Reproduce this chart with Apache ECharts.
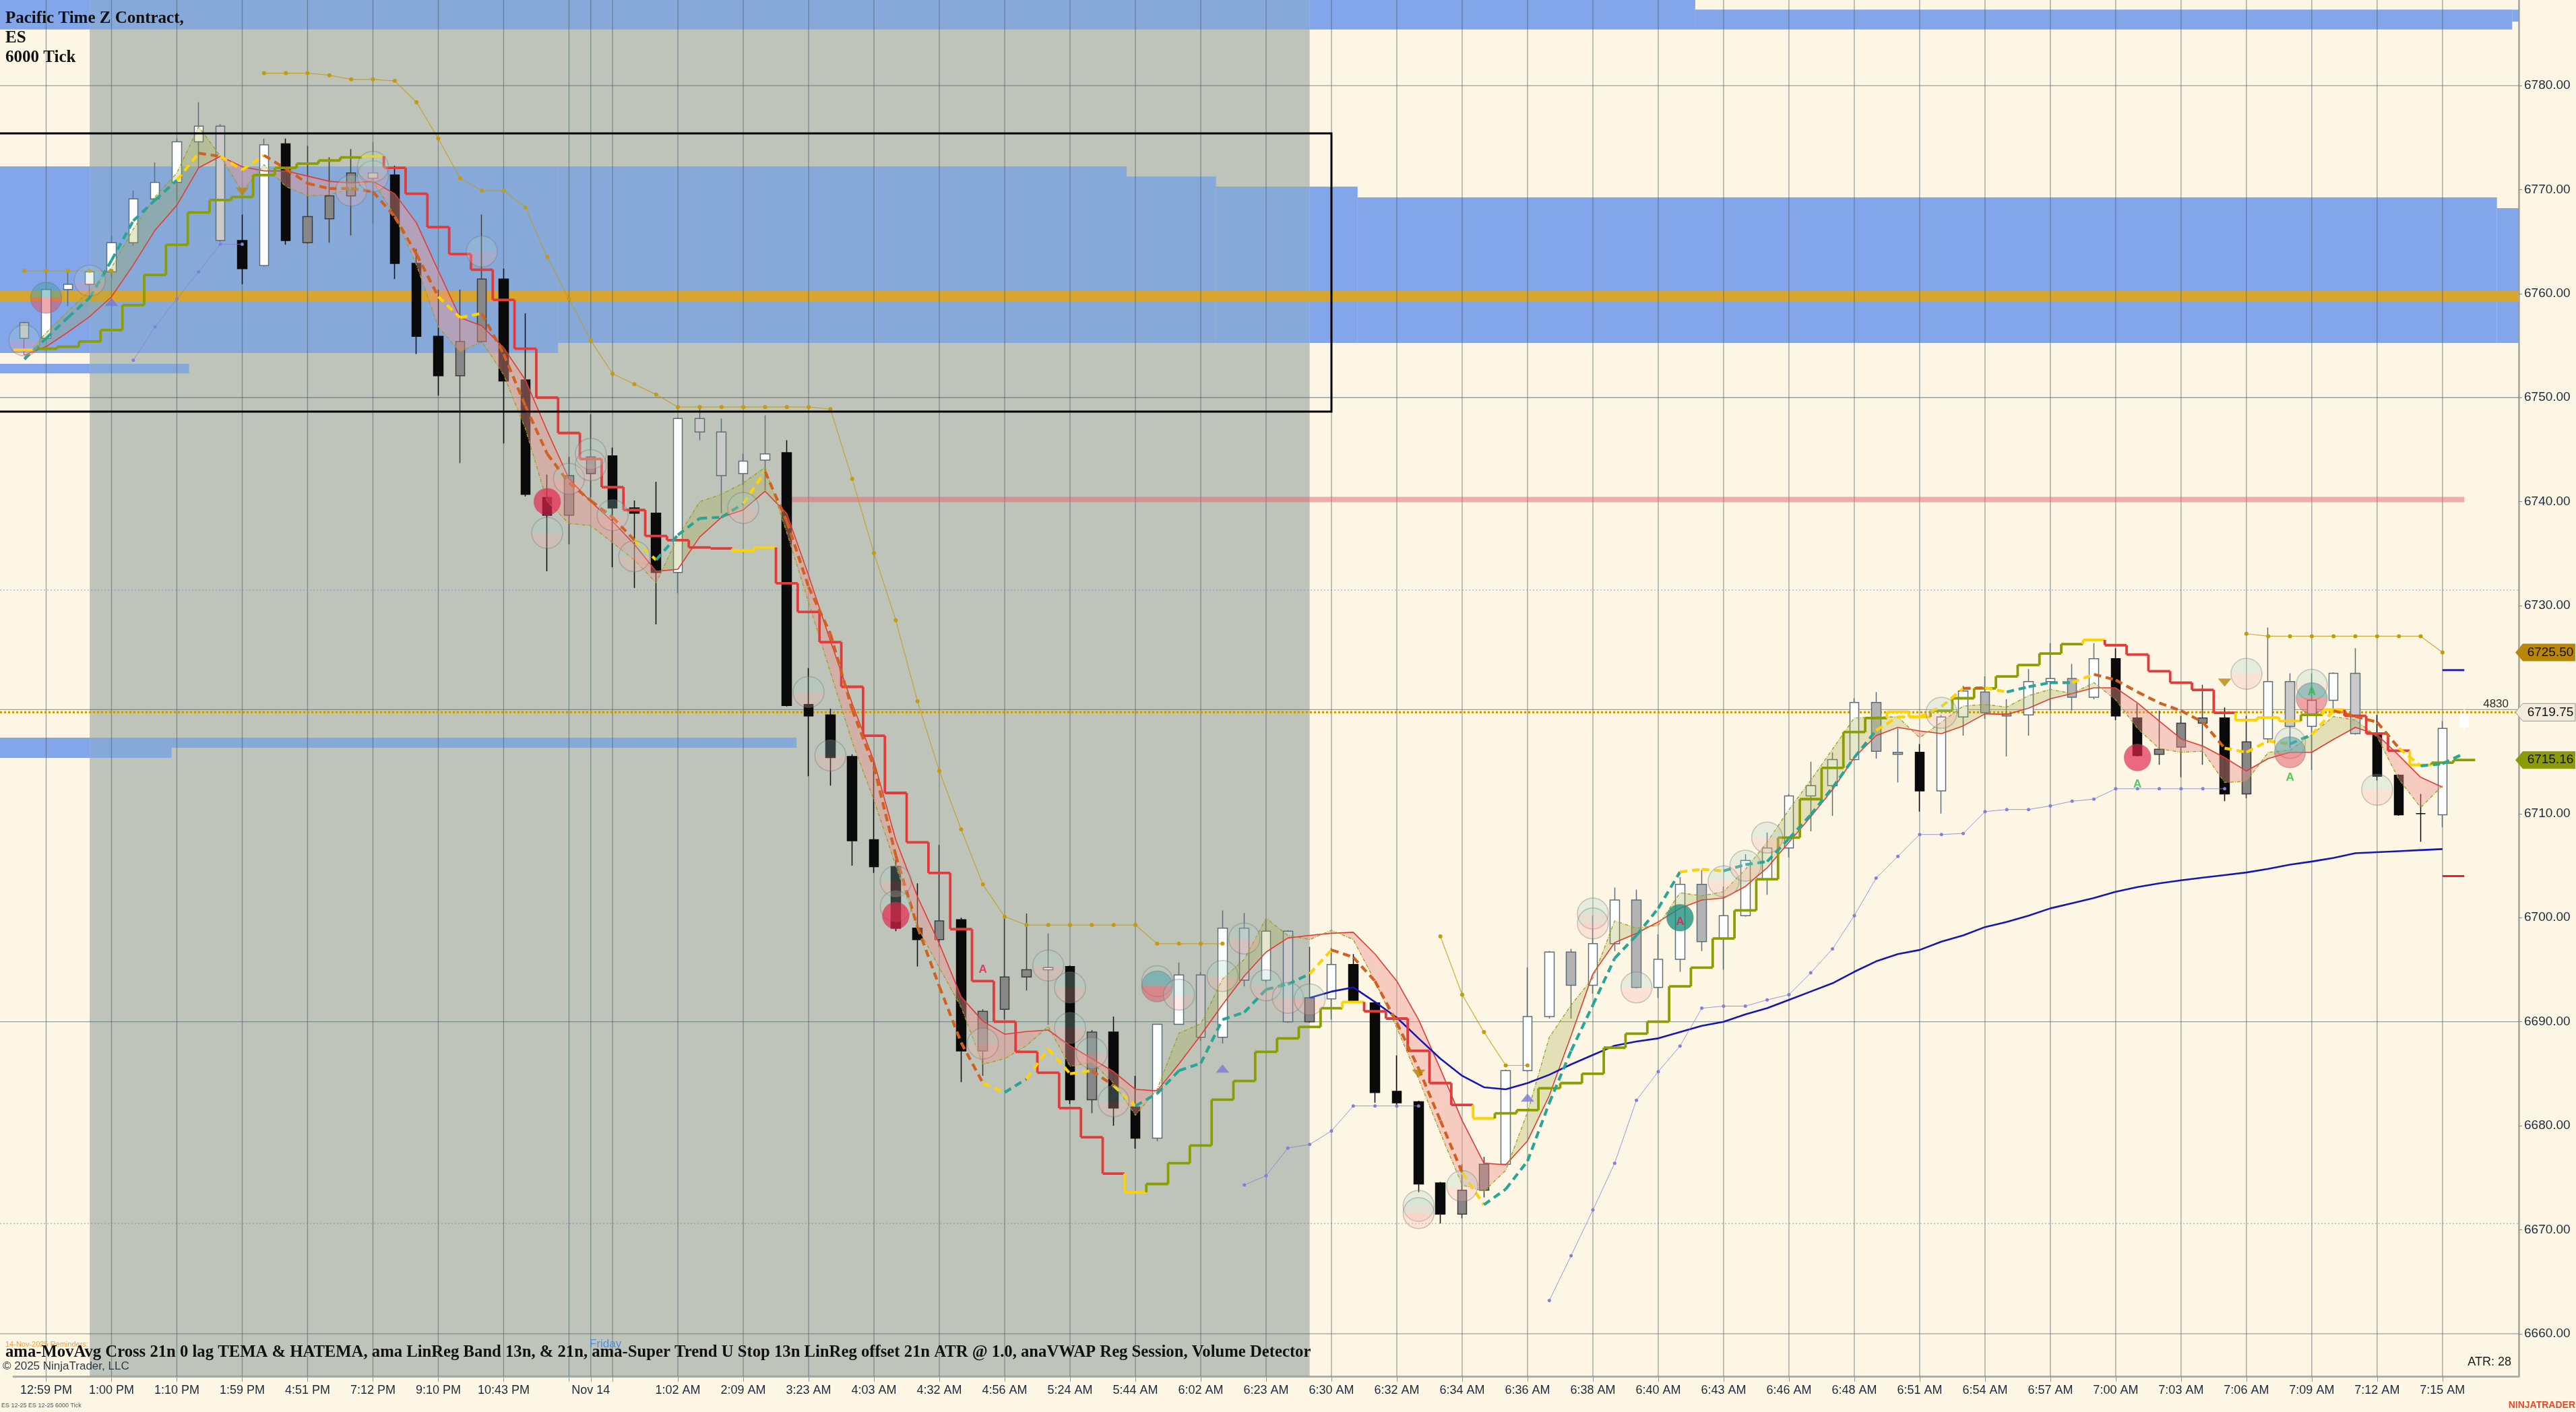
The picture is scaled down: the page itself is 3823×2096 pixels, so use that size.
<!DOCTYPE html>
<html><head><meta charset="utf-8">
<script src="https://cdn.jsdelivr.net/npm/echarts@6/dist/echarts.min.js"></script>
<style>html,body{margin:0;padding:0;background:#FDF6E4;}#c{width:3823px;height:2096px;}</style>
</head><body><div id="c"></div>
<script>
// ---------- DATA ----------
const tickBars = [1,4,7,10,13,16,19,22,26,30,33,36,39,42,45,48,51,54,57,60,63,66,69,72,75,78,81,84,87,90,93,96,99,102,105,108,111];
const tickText = ['12:59 PM','1:00 PM','1:10 PM','1:59 PM','4:51 PM','7:12 PM','9:10 PM','10:43 PM','Nov 14','1:02 AM','2:09 AM','3:23 AM','4:03 AM','4:32 AM','4:56 AM','5:24 AM','5:44 AM','6:02 AM','6:23 AM','6:30 AM','6:32 AM','6:34 AM','6:36 AM','6:38 AM','6:40 AM','6:43 AM','6:46 AM','6:48 AM','6:51 AM','6:54 AM','6:57 AM','7:00 AM','7:03 AM','7:06 AM','7:09 AM','7:12 AM','7:15 AM'];
const extraGridBars = [25,27];
const yTicks = [6660,6670,6680,6690,6700,6710,6720,6730,6740,6750,6760,6770,6780];
const hGrid = [6660,6690,6720,6750,6780];

const opens = [6757.2,6755.7,6760.4,6760.9,6762.1,6764.9,6769.1,6770.7,6774.6,6776.1,
6765.1,6762.7,6774.4,6767.4,6769.4,6771.6,6771.6,6771.4,6762.9,6755.9,
6755.4,6761.4,6761.4,6751.7,6740.4,6742.5,6744.3,6744.4,6739.4,6738.9,
6733.2,6748.0,6746.7,6742.7,6744.0,6744.7,6720.5,6719.5,6715.5,6707.5,
6704.9,6699.0,6699.7,6699.8,6691.0,6694.3,6695.0,6695.0,6695.3,6689.0,
6689.0,6681.8,6678.8,6689.75,6694.5,6688.5,6699.0,6694.0,6698.7,6692.3,
6692.2,6695.5,6691.8,6683.3,6682.3,6674.5,6673.8,6673.8,6676.3,6685.3,
6690.5,6696.7,6693.5,6697.5,6701.7,6693.3,6696.0,6703.2,6698.0,6700.2,
6703.7,6706.7,6711.7,6712.7,6715.2,6720.7,6715.9,6715.9,6712.2,6719.3,
6721.7,6719.6,6719.5,6722.7,6723.0,6721.2,6724.9,6719.2,6716.2,6718.7,
6719.2,6719.2,6716.9,6717.2,6722.7,6718.4,6720.9,6723.5,6717.6,6713.7,
6710.0,6709.9];
const closes = [6755.7,6760.4,6760.9,6762.1,6764.9,6769.1,6770.7,6774.6,6776.1,6765.1,
6762.4,6774.3,6765.1,6764.9,6767.2,6769.4,6771.1,6762.9,6755.9,6752.1,
6752.1,6755.4,6751.6,6740.7,6738.7,6738.7,6742.7,6739.4,6738.9,6733.2,
6748.0,6746.7,6742.5,6743.9,6744.6,6720.4,6719.4,6715.4,6707.4,6704.9,
6699.0,6697.9,6697.9,6687.2,6687.2,6691.2,6694.3,6695.2,6682.5,6682.5,
6681.7,6678.8,6689.75,6694.5,6688.5,6699.0,6694.0,6698.7,6690.0,6690.0,
6695.5,6692.0,6683.2,6682.2,6674.4,6671.5,6671.5,6676.3,6685.3,6690.5,
6696.7,6693.5,6697.5,6701.7,6693.3,6696.0,6703.2,6697.7,6700.2,6705.5,
6706.7,6711.7,6712.7,6715.2,6720.7,6716.0,6715.7,6712.2,6719.3,6721.8,
6719.7,6719.4,6722.7,6723.0,6721.2,6724.9,6719.4,6715.6,6715.7,6716.4,
6718.7,6711.9,6711.9,6722.7,6718.4,6720.9,6723.5,6717.7,6713.6,6709.9,
6710.0,6718.2];
const highs = [6757.3,6760.5,6762.2,6762.4,6765.6,6769.9,6772.6,6774.9,6778.4,6776.3,
6767.6,6774.9,6774.9,6774.2,6773.1,6773.9,6774.6,6772.3,6764.3,6760.4,
6760.4,6767.6,6762.4,6758.1,6742.6,6744.3,6748.4,6745.2,6740.1,6741.9,
6748.1,6749.0,6748.0,6744.6,6748.3,6745.9,6724.0,6720.1,6715.7,6715.0,
6705.6,6703.3,6707.0,6700.0,6691.2,6700.0,6700.4,6698.5,6695.4,6689.2,
6690.5,6684.8,6689.8,6695.7,6694.75,6700.7,6700.45,6699.8,6698.8,6697.2,
6697.1,6696.5,6691.9,6686.75,6682.4,6674.6,6676.3,6677.0,6685.4,6695.2,
6696.8,6697.0,6700.2,6702.9,6702.7,6698.4,6703.9,6704.6,6703.0,6706.1,
6708.2,6711.9,6715.0,6715.9,6721.1,6721.7,6718.2,6716.7,6719.5,6722.3,
6723.2,6721.0,6723.9,6726.4,6724.4,6726.4,6725.9,6720.6,6719.9,6719.4,
6722.4,6720.2,6719.4,6727.9,6723.5,6723.5,6723.6,6725.9,6719.5,6713.8,
6711.9,6718.9];
const lows = [6754.1,6755.5,6758.8,6759.7,6761.5,6764.6,6769.0,6769.0,6772.1,6765.0,
6760.9,6762.6,6764.7,6764.8,6764.9,6765.6,6766.7,6761.4,6754.2,6750.2,
6743.7,6755.3,6745.6,6740.5,6733.3,6735.9,6740.4,6733.7,6731.7,6728.2,
6731.2,6745.9,6738.9,6741.6,6741.1,6720.3,6713.6,6712.7,6705.0,6704.3,
6698.7,6695.3,6697.2,6684.2,6684.8,6690.2,6693.0,6689.7,6682.1,6681.2,
6680.0,6677.8,6678.5,6689.7,6688.2,6687.9,6693.4,6693.8,6689.9,6689.9,
6690.2,6691.8,6682.2,6682.0,6673.6,6670.6,6671.1,6673.1,6676.2,6685.2,
6690.3,6690.3,6692.7,6696.8,6693.2,6692.3,6694.8,6696.8,6695.0,6700.1,
6702.2,6705.8,6708.3,6709.8,6715.1,6715.3,6713.0,6710.2,6710.0,6717.5,
6719.1,6715.5,6717.5,6719.9,6719.9,6721.0,6719.0,6715.5,6714.7,6713.5,
6714.7,6711.2,6711.5,6716.8,6716.3,6714.2,6720.0,6717.6,6713.2,6709.8,
6707.3,6708.7];
// candle paint: w up, b down, d/m/l painted grey bars
const paint = "lwwwwwwwwl"+"bwbdddlbbb"+"ddbbbddbbb"+"wllwwbbbbb"+"bbdbdddwbd"+"bbwwlwlwld"+"wbbbbbddww"+"wmwwmwwmww"+"wwwwwmmbww"+"mmwwmwbbdd"+"dbdwlwwlbb"+"bw";

// Super Trend U Stop (bars 0..112) and its trend state runs
const stopVals = [6754.6,6754.7,6754.9,6755.4,6756.5,6758.9,6761.8,6764.7,6767.8,6769.0,
6769.3,6771.4,6772.1,6772.5,6772.8,6773.1,6773.2,6772.1,6769.6,6766.4,
6763.8,6762.3,6759.4,6754.7,6750.0,6746.6,6744.1,6741.4,6739.2,6736.7,
6736.3,6735.6,6735.5,6735.3,6735.6,6732.15,6729.4,6726.5,6722.2,6717.5,
6712.0,6707.25,6704.3,6698.9,6693.9,6690.0,6687.1,6685.1,6681.7,6678.9,
6675.4,6673.6,6674.4,6676.4,6678.1,6682.5,6684.3,6687.1,6688.4,6689.5,
6691.3,6691.9,6691.0,6690.3,6687.2,6684.1,6682.0,6680.7,6681.2,6681.5,
6683.6,6684.1,6685.0,6687.5,6688.85,6690.0,6693.4,6695.2,6698.0,6700.7,
6703.7,6707.7,6711.4,6714.4,6717.85,6719.2,6719.8,6719.3,6719.9,6721.1,
6722.05,6723.2,6724.3,6725.4,6726.3,6726.7,6726.2,6725.3,6723.7,6722.6,
6721.9,6719.7,6719.0,6719.25,6718.9,6719.5,6720.0,6719.4,6717.7,6716.05,
6714.7,6714.9,6715.16];
const stopRuns = [['y',1],['u',15],['y',1],['d',16],['y',2],['d',16],['y',1],['u',9],['y',1],['d',5],['y',1],['u',18],['y',2],['u',7],['y',1],['d',6],['y',3],['u',1],['y',1],['d',3],['y',1],['u',2]];

// MovAvg Cross TEMA (bars 0..112) and segment state runs
const temaVals = [6753.7,6755.7,6757.7,6759.6,6763.2,6767.0,6769.0,6770.9,6773.5,6773.2,
6771.9,6773.3,6772.0,6770.6,6770.1,6770.1,6769.8,6767.4,6763.8,6759.7,
6757.7,6758.1,6754.2,6749.2,6744.6,6741.8,6740.1,6738.5,6736.3,6734.4,
6736.8,6738.4,6738.5,6739.8,6742.9,6738.1,6731.8,6727.3,6720.0,6714.5,
6706.0,6699.1,6693.4,6688.0,6684.1,6683.2,6684.5,6687.4,6685.0,6685.3,
6683.85,6681.9,6683.1,6685.3,6686.0,6690.2,6690.9,6693.1,6693.6,6694.6,
6696.9,6696.2,6693.9,6689.9,6685.5,6680.5,6675.5,6672.4,6673.9,6676.6,
6682.2,6687.2,6691.6,6696.1,6698.3,6700.9,6704.4,6704.65,6704.5,6705.1,
6705.4,6707.6,6709.9,6712.5,6715.4,6718.0,6719.3,6719.3,6720.3,6722.05,
6722.1,6721.7,6722.2,6722.6,6722.6,6723.4,6722.85,6721.7,6720.65,6719.9,
6718.8,6716.3,6715.9,6717.0,6716.7,6717.6,6719.9,6719.35,6718.8,6716.3,
6714.6,6714.8,6715.8];
const temaRuns = [['u',7],['y',1],['d',1],['y',2],['d',8],['y',2],['d',7],['y',1],['u',4],['y',1],['d',10],['y',1],['u',1],['y',3],['d',1],['y',1],['u',8],['y',1],['d',6],['y',1],['u',9],['y',2],['u',7],['y',4],['d',1],['y',1],['u',3],['y',1],['d',6],['y',3],['u',1],['y',1],['d',3],['y',1],['u',2]];

// LinReg band
const lrRed = [6754.1,6754.9,6756.3,6757.8,6759.7,6762.75,6766.1,6768.5,6772.1,6773.2,
6772.2,6771.8,6771.8,6771.3,6770.8,6770.65,6770.8,6769.6,6766.8,6762.2,
6757.7,6756.9,6754.8,6751.7,6746.8,6742.2,6740.0,6738.1,6735.9,6733.3,
6733.5,6736.6,6738.5,6739.2,6741.0,6738.85,6732.9,6726.6,6720.6,6715.05,
6707.5,6702.0,6697.5,6692.4,6690.05,6688.8,6689.05,6689.2,6687.7,6686.45,
6685.2,6683.5,6683.35,6685.95,6688.7,6691.65,6694.4,6696.7,6698.05,6698.3,
6698.5,6698.6,6696.5,6693.9,6690.2,6685.45,6680.5,6676.4,6676.25,6678.55,
6682.9,6688.66,6694.6,6697.6,6698.5,6699.6,6700.9,6701.7,6701.9,6703.0,
6704.8,6707.26,6709.7,6712.3,6715.4,6717.5,6718.3,6717.96,6717.7,6718.45,
6719.6,6719.55,6720.15,6721.05,6721.55,6722.1,6722.1,6720.65,6718.9,6717.2,
6716.5,6715.4,6714.1,6715.3,6715.9,6715.9,6717.15,6718.3,6717.6,6715.6,
6713.5,6712.55];
const lrOlive = [6753.8,6756.25,6758.3,6760.3,6762.5,6766.2,6769.3,6771.6,6776.05,6773.2,
6769.8,6772.4,6770.3,6769.4,6769.5,6770.1,6770.85,6767.5,6762.75,6756.8,
6754.4,6755.4,6752.2,6747.0,6740.0,6737.9,6737.7,6736.05,6734.4,6732.2,
6736.6,6740.0,6740.7,6741.8,6743.3,6737.0,6730.3,6723.6,6716.9,6711.3,
6705.0,6699.1,6695.2,6691.4,6685.9,6686.45,6687.7,6689.55,6685.7,6686.1,
6684.1,6681.0,6683.5,6688.9,6689.8,6694.1,6696.0,6699.95,6698.3,6697.9,
6698.8,6697.9,6693.9,6689.4,6684.5,6679.3,6674.3,6673.7,6675.7,6681.3,
6688.5,6691.6,6694.2,6699.7,6699.0,6699.26,6702.4,6702.1,6702.5,6704.65,
6707.26,6710.4,6713.2,6716.2,6719.2,6719.3,6719.3,6717.3,6718.8,6720.35,
6720.5,6720.25,6721.35,6721.95,6721.55,6722.6,6720.95,6718.2,6716.25,6715.9,
6716.0,6713.0,6713.1,6715.9,6716.1,6717.6,6719.35,6719.0,6717.4,6713.3,
6710.6,6712.7];

// dotted gold stop and lavender trail, as [startBar, values]
const goldSegs = [
 [0,[6762.2,6762.2,6762.2,6762.2,6762.2]],
 [11,[6781.2,6781.2,6781.2,6781.0,6780.6,6780.6,6780.45,6778.4,6774.9,6771.1,6769.9,6769.9,6768.3,6763.5,6759.5,6755.5,6752.3,6751.3,6750.3,6749.1,6749.1,6749.1,6749.1,6749.1,6749.1,6749.1,6748.9,6742.2,6735.05,6728.6,6720.8,6714.1,6708.5,6703.2,6700.1,6699.3,6699.3,6699.3,6699.3,6699.3,6699.3,6697.5,6697.5,6697.5,6697.5]],
 [65,[6698.2,6692.6,6689.0,6685.8,6685.8]],
 [102,[6727.3,6727.06,6727.06,6727.06,6727.06,6727.06,6727.06,6727.06,6727.06,6725.5]]
];
const lavSegs = [
 [5,[6753.6,6756.8,6759.5,6762.1,6764.75,6764.75]],
 [56,[6674.3,6675.2,6677.85,6678.2,6679.5,6681.9,6681.9,6681.9,6681.9]],
 [70,[6663.2,6667.5,6671.9,6676.4,6682.45,6685.2,6687.66,6691.3,6691.5,6691.5,6692.1,6692.6,6694.7,6697.0,6700.2,6703.8,6705.9,6708.0,6708.0,6708.1,6710.2,6710.4,6710.4,6710.75,6711.2,6711.4,6712.4,6712.4,6712.4,6712.4,6712.4,6712.4]]
];
const vwapStart = 59;
const vwapVals = [6692.3,6692.9,6693.3,6691.9,6690.4,6688.4,6686.45,6684.8,6683.7,6683.5,6684.1,6684.9,6685.9,6686.8,6687.7,6688.1,6688.4,6689.0,6689.6,6690.0,6690.7,6691.3,6692.1,6692.9,6693.7,6694.8,6695.8,6696.5,6696.9,6697.7,6698.3,6699.1,6699.6,6700.2,6700.9,6701.4,6701.9,6702.5,6702.95,6703.3,6703.6,6703.85,6704.1,6704.35,6704.7,6705.1,6705.4,6705.75,6706.2,6706.3,6706.4,6706.5,6706.6];

// Volume detector bubbles
const bubbleBar = [0,1,3,15,16,16,21,24,24,25,26,26,27,28,33,36,37,40,40,40,44,47,48,48,49,50,52,52,53,55,56,57,58,59,64,64,66,72,72,74,76,78,79,80,88,97,102,104,104,105,105,108];
const bubblePrice = [6755.5,6759.6,6761.25,6769.9,6771.3,6772.2,6764.05,6740.0,6737.0,6742.2,6744.6,6743.5,6738.7,6734.75,6739.4,6721.7,6715.6,6703.5,6701.1,6700.2,6687.9,6695.4,6693.3,6689.4,6687.0,6682.35,6693.9,6693.4,6692.6,6694.4,6698.0,6693.5,6692.3,6692.15,6672.3,6671.6,6674.2,6700.4,6699.45,6693.3,6700.0,6703.5,6705.0,6707.7,6719.7,6715.4,6723.45,6716.8,6715.9,6722.4,6721.1,6712.3];
const bubbleKind = "fsfffffrff"+"fffffffffr"+"fffffffsff"+"ffffffffff"+"tffffrffsf"+"sf";
const upTriBar = [4,55,69], upTriPrice = [6759.2,6685.5,6682.7];
const dnTriBar = [10,64,101], dnTriPrice = [6769.8,6685.0,6722.6];
const redABar = [44,76], redAPrice = [6695.0,6699.6];
const grnABar = [97,104,105], grnAPrice = [6712.8,6713.5,6721.7];

// zones [startBar, endBar] (-9 = left edge, 999 = right edge), top, bottom
const zoneBars = [[-9,76.7],[76.7,114.2],[114.2,999],[-9,24.5],[24.5,50.6],[50.6,54.7],[54.7,61.2],[61.2,113.5],[113.5,999],[-9,7.56],[-9,35.45],[-9,6.76]];
const zoneTop = [6788.3,6787.3,6787.3,6772.23,6772.23,6771.26,6770.29,6769.25,6768.21,6753.25,6717.31,6716.33];
const zoneBot = [6785.4,6785.4,6786.15,6754.29,6755.26,6755.26,6755.26,6755.26,6755.26,6752.34,6716.33,6715.36];
const pocBand = [6760.25,6759.27];
const sessStart = 3, sessEnd = 59;
const boxBars = [-9,60.0], boxPrices = [6775.4,6748.65];
const pinkLine = {from:35.2, to:112.0, price:6740.2};
const lastPrice = 6719.75, lastVol = '4830', stopTag = 6725.5, trendTag = 6715.16;
const blueTickPrice = 6723.8, redTickPrice = 6704.0;
const dotBlueLine = 6731.5, dotGreyLine = 6670.6;
const ghost = {bar:112, o:6719.6, c:6718.3, h:6720.5, l:6718.0};

// ---------- BUILD ----------
const NCAT = 115;
const yMin = 6655.91, yMax = 6788.23;
const labelMap = new Map(tickBars.map((b,i)=>[b,tickText[i]]));
const gridBars = tickBars.concat(extraGridBars);
const gridSet = new Set(gridBars);
const cats = Array.from({length:NCAT},(_,i)=>String(i));
function expandRuns(r){const o=[];r.forEach(([k,n])=>{for(let j=0;j<n;j++)o.push(k);});return o;}
const stopState = expandRuns(stopRuns), temaState = expandRuns(temaRuns);
function segSeries(segs){const arr=new Array(NCAT).fill(null);segs.forEach(([s,v])=>v.forEach((x,j)=>arr[s+j]=x));return arr;}
const goldData = segSeries(goldSegs), lavData = segSeries(lavSegs), vwapData = segSeries([[vwapStart,vwapVals]]);

const candleStyle = {w:{f:'#FFFFFF',b:'#5C6F7A'},b:{f:'#0A0A0A',b:'#0A0A0A'},d:{f:'#878787',b:'#3C3C3C'},m:{f:'#B3B3B3',b:'#5C6F7A'},l:{f:'#CACACA',b:'#5C6F7A'}};
const candleData = opens.map((o,i)=>{const s=candleStyle[paint[i]];return {value:[o,closes[i],lows[i],highs[i]],itemStyle:{color:s.f,color0:s.f,borderColor:s.b,borderColor0:s.b,borderWidth:1.5}};});

function split(a,b){return new echarts.graphic.LinearGradient(0,0,0,1,[{offset:0,color:a},{offset:0.5,color:a},{offset:0.5,color:b},{offset:1,color:b}]);}
const bubbleStyles = {
  f:{color:split('rgba(165,210,200,0.32)','rgba(245,175,170,0.34)'),borderColor:'rgba(110,110,110,0.45)',borderWidth:1.5},
  s:{color:split('rgba(70,160,165,0.65)','rgba(225,80,95,0.62)'),borderColor:'rgba(110,110,110,0.45)',borderWidth:1.5},
  r:{color:'rgba(226,38,78,0.85)',borderColor:'rgba(120,120,120,0.4)',borderWidth:1},
  t:{color:'rgba(22,140,125,0.95)',borderColor:'rgba(120,120,120,0.4)',borderWidth:1}
};
const bubbleData = bubbleBar.map((b,i)=>{const k=bubbleKind[i];return {value:[b,bubblePrice[i]],symbolSize:(k==='r'||k==='t')?40:46,itemStyle:bubbleStyles[k]};});

const COL = {u:'#8A9E00', d:'#E23B3B', y:'#FFD200'};
const TCOL = {u:'#28A597', d:'#D2601E', y:'#FFD200'};

function helpers(params, api){
  const cs = params.coordSys;
  const p0 = api.coord([0,6700]), p1 = api.coord([1,6700]);
  const step = p1[0]-p0[0];
  const X = b => p0[0] + b*step;
  const CX = b => Math.max(0, Math.min(cs.x+cs.width, X(b)));
  const Y = v => api.coord([0,v])[1];
  return {cs, X, CX, Y, step};
}

function renderBg(params, api){
  const {cs, X, CX, Y} = helpers(params, api);
  const ch = [];
  const L = 0, Rr = cs.x+cs.width;
  const sx0 = X(sessStart), sx1 = X(sessEnd);
  ch.push({type:'rect',shape:{x:sx0,y:cs.y,width:sx1-sx0,height:cs.height},style:{fill:'rgba(110,130,130,0.43)'}});
  const cream = 'rgba(100,145,235,0.8)', inS = 'rgba(121,162,225,0.8)';
  zoneBars.forEach((zb,k)=>{
    const x0 = CX(zb[0]), x1 = CX(zb[1]);
    const yT = Math.max(cs.y, Y(zoneTop[k])), yB = Y(zoneBot[k]);
    [[x0,Math.min(x1,sx0),cream],[Math.max(x0,sx0),Math.min(x1,sx1),inS],[Math.max(x0,sx1),x1,cream]].forEach(p=>{
      if (p[1]>p[0]) ch.push({type:'rect',shape:{x:p[0],y:yT,width:p[1]-p[0],height:yB-yT},style:{fill:p[2]}});
    });
  });
  ch.push({type:'rect',shape:{x:L,y:Y(pocBand[0]),width:Rr-L,height:Y(pocBand[1])-Y(pocBand[0])},style:{fill:'rgba(222,166,32,0.93)'}});
  const gc = 'rgba(70,92,102,0.55)';
  hGrid.forEach(v=>ch.push({type:'line',shape:{x1:L,y1:Y(v),x2:Rr,y2:Y(v)},style:{stroke:gc,lineWidth:1.3}}));
  gridBars.forEach(b=>ch.push({type:'line',shape:{x1:X(b),y1:cs.y,x2:X(b),y2:cs.y+cs.height},style:{stroke:gc,lineWidth:1.3}}));
  ch.push({type:'line',shape:{x1:L,y1:Y(dotBlueLine),x2:Rr,y2:Y(dotBlueLine)},style:{stroke:'rgba(90,140,230,0.8)',lineWidth:1,lineDash:[2,3]}});
  ch.push({type:'line',shape:{x1:L,y1:Y(dotGreyLine),x2:Rr,y2:Y(dotGreyLine)},style:{stroke:'rgba(120,120,120,0.7)',lineWidth:1,lineDash:[2,3]}});
  ch.push({type:'line',shape:{x1:X(pinkLine.from),y1:Y(pinkLine.price),x2:X(pinkLine.to),y2:Y(pinkLine.price)},style:{stroke:'rgba(225,100,110,0.5)',lineWidth:8}});
  ch.push({type:'line',shape:{x1:L,y1:Y(lastPrice),x2:Rr,y2:Y(lastPrice)},style:{stroke:'#C49A00',lineWidth:3,lineDash:[3,3]}});
  return {type:'group',children:ch};
}

function renderFill(params, api){
  const ch = [];
  const G = 'rgba(160,170,70,0.28)', R = 'rgba(235,150,143,0.44)';
  for (let i=0;i<lrRed.length-1;i++){
    const r0=lrRed[i], r1=lrRed[i+1], o0=lrOlive[i], o1=lrOlive[i+1];
    const A=api.coord([i,r0]), B=api.coord([i+1,r1]), C=api.coord([i+1,o1]), D=api.coord([i,o0]);
    const d0=o0-r0, d1=o1-r1;
    if (d0*d1<0){
      const t=d0/(d0-d1);
      const M=[A[0]+t*(B[0]-A[0]), A[1]+t*(B[1]-A[1])];
      ch.push({type:'polygon',shape:{points:[A,M,D]},style:{fill:d0>0?G:R}});
      ch.push({type:'polygon',shape:{points:[M,B,C]},style:{fill:d1>0?G:R}});
    } else {
      ch.push({type:'polygon',shape:{points:[A,B,C,D]},style:{fill:(d0+d1)>0?G:R}});
    }
  }
  return {type:'group',children:ch};
}

function renderStop(params, api){
  const {X, Y} = helpers(params, api);
  const ch = [];
  for (let i=0;i<stopVals.length;i++){
    const y = Y(stopVals[i]);
    ch.push({type:'line',shape:{x1:X(i-0.5),y1:y,x2:X(i+0.5),y2:y},style:{stroke:COL[stopState[i]],lineWidth:3.8}});
    if (i<stopVals.length-1){
      ch.push({type:'line',shape:{x1:X(i+0.5),y1:y,x2:X(i+0.5),y2:Y(stopVals[i+1])},style:{stroke:COL[stopState[i+1]],lineWidth:3.8}});
    }
  }
  return {type:'group',children:ch};
}

function renderTema(params, api){
  const ch = [];
  for (let i=0;i<temaVals.length-1;i++){
    const a=api.coord([i,temaVals[i]]), b=api.coord([i+1,temaVals[i+1]]);
    ch.push({type:'line',shape:{x1:a[0],y1:a[1],x2:b[0],y2:b[1]},style:{stroke:TCOL[temaState[i]],lineWidth:4.2,lineDash:[11,7]}});
  }
  return {type:'group',children:ch};
}

function renderTop(params, api){
  const {cs, X, Y} = helpers(params, api);
  const ch = [];
  const bx0 = -12, bx1 = X(boxBars[1]);
  ch.push({type:'rect',shape:{x:bx0,y:Y(boxPrices[0]),width:bx1-bx0,height:Y(boxPrices[1])-Y(boxPrices[0])},style:{fill:'none',stroke:'#000',lineWidth:3}});
  ch.push({type:'line',shape:{x1:X(111),y1:Y(blueTickPrice),x2:X(112),y2:Y(blueTickPrice)},style:{stroke:'#1E1EF0',lineWidth:3}});
  ch.push({type:'line',shape:{x1:X(111),y1:Y(redTickPrice),x2:X(112),y2:Y(redTickPrice)},style:{stroke:'#F01E1E',lineWidth:3}});
  ch.push({type:'line',shape:{x1:X(ghost.bar),y1:Y(ghost.h),x2:X(ghost.bar),y2:Y(ghost.l)},style:{stroke:'#FFFFFF',lineWidth:1.5}});
  ch.push({type:'rect',shape:{x:X(ghost.bar)-7,y:Y(ghost.o),width:14,height:Y(ghost.c)-Y(ghost.o)},style:{fill:'#FFFFFF'}});
  ch.push({type:'text',style:{text:lastVol,x:cs.x+cs.width-15,y:Y(lastPrice)-4,align:'right',verticalAlign:'bottom',textAlign:'right',textVerticalAlign:'bottom',font:'17px "Liberation Sans"',fill:'#2A2A2A'}});
  const ax = cs.x+cs.width;
  const tags = [[stopTag,'#B8860B','none'],[lastPrice,'#F2ECDC','#9A9A90'],[trendTag,'#8A9A0A','none']];
  tags.forEach(([v,fill,stroke])=>{
    const yc = Y(v), h = 13;
    ch.push({type:'polygon',shape:{points:[[ax-5,yc],[ax+6,yc-h],[3822,yc-h],[3822,yc+h],[ax+6,yc+h]]},style:{fill:fill,stroke:stroke,lineWidth:1}});
    ch.push({type:'text',style:{text:v.toFixed(2),x:(ax+6+3822)/2+2,y:yc,align:'center',verticalAlign:'middle',textAlign:'center',textVerticalAlign:'middle',font:'19px "Liberation Sans"',fill:'#111'}});
  });
  return {type:'group',children:ch};
}

function pts(bars, prices){return bars.map((b,i)=>[b,prices[i]]);}

const option = {
  backgroundColor:'#FDF6E4',
  animation:false,
  grid:{left:20,right:85,top:0,bottom:53,containLabel:false},
  xAxis:{type:'category',data:cats,boundaryGap:true,
    axisLine:{show:true,lineStyle:{color:'#AEB0A8',width:3}},
    axisTick:{show:true,alignWithLabel:true,interval:(i)=>gridSet.has(i),length:8,lineStyle:{color:'#8C9CA4',width:1}},
    axisLabel:{show:true,interval:(i)=>labelMap.has(i),formatter:(v,i)=>labelMap.get(Number(v))||'',fontSize:18,color:'#1B2B3B',margin:12,fontFamily:'Liberation Sans'},
    splitLine:{show:false}},
  yAxis:{type:'value',position:'right',min:yMin,max:yMax,scale:true,
    axisLine:{show:true,lineStyle:{color:'#AEB0A8',width:3}},
    axisTick:{show:true,length:5,customValues:yTicks,lineStyle:{color:'#7A8A90'}},
    axisLabel:{show:true,customValues:yTicks,formatter:(v)=>Number(v).toFixed(2),fontSize:19,color:'#1B2B3B',margin:8,fontFamily:'Liberation Sans'},
    splitLine:{show:false}},
  series:[
    {type:'custom',name:'bg',z:1,silent:true,data:[[0,6700]],renderItem:renderBg,clip:false},
    {type:'candlestick',name:'ES',z:3,silent:true,barWidth:14,data:candleData},
    {type:'custom',name:'band fill',z:4,silent:true,data:[[0,6700]],renderItem:renderFill,clip:true},
    {type:'line',name:'LinReg 13',z:5,silent:true,data:lrRed,symbol:'none',lineStyle:{color:'#E43A36',width:1.6}},
    {type:'line',name:'LinReg 21',z:5,silent:true,data:lrOlive,symbol:'none',lineStyle:{color:'#98A01A',width:1.3,type:[5,2,1,2]}},
    {type:'line',name:'VWAP',z:5,silent:true,data:vwapData,symbol:'none',connectNulls:false,lineStyle:{color:'#1616B4',width:2.6}},
    {type:'line',name:'gold',z:5,silent:true,data:goldData,connectNulls:false,symbol:'circle',symbolSize:6,itemStyle:{color:'#C49A10'},lineStyle:{color:'rgba(196,154,16,0.8)',width:1.2}},
    {type:'line',name:'trail',z:5,silent:true,data:lavData,connectNulls:false,symbol:'circle',symbolSize:5,itemStyle:{color:'#8080D8'},lineStyle:{color:'rgba(128,128,216,0.8)',width:1}},
    {type:'custom',name:'stop',z:6,silent:true,data:[[0,6700]],renderItem:renderStop,clip:true},
    {type:'custom',name:'tema',z:7,silent:true,data:[[0,6700]],renderItem:renderTema,clip:true},
    {type:'scatter',name:'bubbles',z:8,silent:true,data:bubbleData},
    {type:'scatter',name:'up',z:9,silent:true,symbol:'triangle',symbolSize:[20,12],itemStyle:{color:'#7B78D8'},data:pts(upTriBar,upTriPrice)},
    {type:'scatter',name:'dn',z:9,silent:true,symbol:'triangle',symbolRotate:180,symbolSize:[20,12],itemStyle:{color:'#B8860B'},data:pts(dnTriBar,dnTriPrice)},
    {type:'scatter',name:'redA',z:9,silent:true,symbolSize:1,itemStyle:{color:'transparent'},label:{show:true,position:'inside',formatter:'A',color:'#E0204A',fontSize:17,fontWeight:'bold',fontFamily:'Liberation Sans'},data:pts(redABar,redAPrice)},
    {type:'scatter',name:'grnA',z:9,silent:true,symbolSize:1,itemStyle:{color:'transparent'},label:{show:true,position:'inside',formatter:'A',color:'#22C040',fontSize:17,fontWeight:'bold',fontFamily:'Liberation Sans'},data:pts(grnABar,grnAPrice)},
    {type:'custom',name:'top',z:10,silent:true,data:[[0,6700]],renderItem:renderTop,clip:false}
  ],
  graphic:[
    {type:'text',x:8,y:28,z:100,style:{text:'Pacific Time Z Contract,',font:'bold 25px "Liberation Serif"',fill:'#111',verticalAlign:'middle',textVerticalAlign:'middle'}},
    {type:'text',x:8,y:57,z:100,style:{text:'ES',font:'bold 25px "Liberation Serif"',fill:'#111',verticalAlign:'middle',textVerticalAlign:'middle'}},
    {type:'text',x:8,y:86,z:100,style:{text:'6000 Tick',font:'bold 25px "Liberation Serif"',fill:'#111',verticalAlign:'middle',textVerticalAlign:'middle'}},
    {type:'text',x:8,y:1996,z:100,style:{text:'14-Nov-2025 Reminders:',font:'11px "Liberation Sans"',fill:'#F5A040',verticalAlign:'middle',textVerticalAlign:'middle'}},
    {type:'text',x:875,y:1995,z:100,style:{text:'Friday',font:'17px "Liberation Sans"',fill:'#4A90E2',verticalAlign:'middle',textVerticalAlign:'middle'}},
    {type:'text',x:8,y:2008,z:100,style:{text:'ama-MovAvg Cross 21n 0 lag TEMA & HATEMA, ama LinReg Band 13n, & 21n, ama-Super Trend U Stop 13n LinReg offset 21n ATR @ 1.0, anaVWAP Reg Session, Volume Detector',font:'bold 24.7px "Liberation Serif"',fill:'#111',verticalAlign:'middle',textVerticalAlign:'middle'}},
    {type:'text',x:4,y:2028,z:100,style:{text:'\u00A9 2025 NinjaTrader, LLC',font:'17px "Liberation Sans"',fill:'#2A3A48',verticalAlign:'middle',textVerticalAlign:'middle'}},
    {type:'text',x:3727,y:2022,z:100,style:{text:'ATR: 28',font:'18px "Liberation Sans"',fill:'#1A1A1A',align:'right',textAlign:'right',verticalAlign:'middle',textVerticalAlign:'middle'}},
    {type:'text',x:3822,y:2086,z:100,style:{text:'NINJATRADER',font:'bold 14px "Liberation Sans"',fill:'#E84A2A',align:'right',textAlign:'right',verticalAlign:'middle',textVerticalAlign:'middle'}},
    {type:'text',x:2,y:2087,z:100,style:{text:'ES 12-25 ES 12-25 6000 Tick',font:'9px "Liberation Sans"',fill:'#555',verticalAlign:'middle',textVerticalAlign:'middle'}}
  ]
};
const chart = echarts.init(document.getElementById('c'), null, {width:3823,height:2096});
chart.setOption(option);
</script></body></html>
